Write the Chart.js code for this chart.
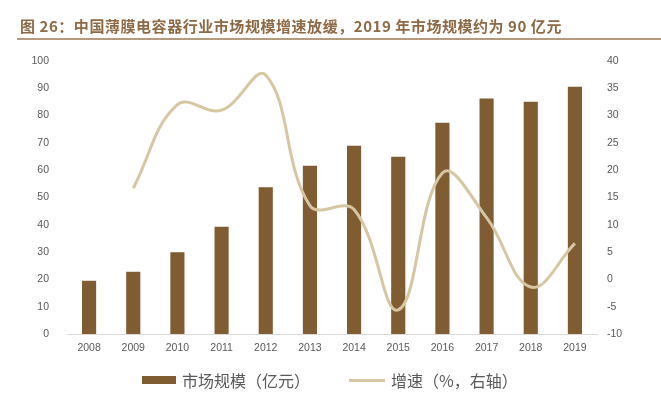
<!DOCTYPE html>
<html>
<head>
<meta charset="utf-8">
<script src="https://cdn.jsdelivr.net/npm/chart.js"></script>
<style>
  body { margin: 0; background: #fff; width: 661px; height: 395px; overflow: hidden; position: relative; font-family: "Noto Sans CJK SC", sans-serif; }
  #title { position: absolute; left: 20px; top: 16px; font-size: 15px; line-height: 20px; font-weight: bold; letter-spacing: 0.55px; color: #8e6945; white-space: nowrap; }
  #rule { position: absolute; left: 17px; right: 0; top: 38px; height: 2px; background: #b59a7e; }
  #wrap { position: absolute; left: 0; top: 0; width: 661px; height: 395px; }
  .leg { position: absolute; top: 369px; height: 22px; display: flex; align-items: center; font-size: 16px; color: #595959; white-space: nowrap; }
  .leg i { display: inline-block; margin-right: 6px; }
</style>
</head>
<body>
<div id="wrap"><canvas id="myChart" width="661" height="395"></canvas></div>
<div id="title">图 26：中国薄膜电容器行业市场规模增速放缓，2019 年市场规模约为 90 亿元</div>
<div id="rule"></div>
<div class="leg" style="left:142px"><i style="width:34px;height:8px;background:#7f5c31"></i>市场规模（亿元）</div>
<div class="leg" style="left:349px"><i style="width:36px;height:3px;background:#d6c6a2"></i>增速（%，右轴）</div>
<script>
const years = ['2008', '2009', '2010', '2011', '2012', '2013', '2014', '2015', '2016', '2017', '2018', '2019'];
const marketSize = [19.5, 22.8, 29.9, 39.3, 53.8, 61.6, 69.0, 64.9, 77.4, 86.3, 85.1, 90.6];
const growthRate = [null, 16.7, 32.0, 31.0, 37.4, 13.5, 12.8, -5.6, 19.5, 11.3, -1.4, 6.6];

Chart.defaults.font.family = '"Liberation Sans", "Noto Sans CJK SC", sans-serif';
Chart.defaults.color = '#595959';

const ctx = document.getElementById('myChart').getContext('2d');

new Chart(ctx, {
  data: {
    labels: years,
    datasets: [
      {
        type: 'line',
        label: '增速（%，右轴）',
        data: growthRate,
        yAxisID: 'y1',
        borderColor: '#d6c6a2',
        borderWidth: 3,
        pointRadius: 0,
        tension: 0.4,
        order: 0,
      },
      {
        type: 'bar',
        label: '市场规模（亿元）',
        data: marketSize,
        yAxisID: 'y',
        backgroundColor: '#7f5c31',
        barPercentage: 0.32,
        categoryPercentage: 1,
        order: 1,
      },
    ],
  },
  options: {
    responsive: false,
    animation: false,
    layout: { padding: { top: 61, bottom: 37, left: 0, right: 0 } },
    plugins: {
      legend: { display: false },
      tooltip: { enabled: false },
    },
    scales: {
      x: {
        grid: { display: false, drawTicks: false },
        border: { display: true, color: '#d9d9d9', width: 1 },
        ticks: { font: { size: 10.5 }, padding: 8, maxRotation: 0 },
        afterFit: (s) => { s.height = 24; },
      },
      y: {
        position: 'left',
        min: 0,
        max: 100,
        grid: { display: false, drawTicks: false },
        border: { display: false },
        ticks: { stepSize: 10, font: { size: 10.5 }, padding: 18 },
        afterFit: (s) => { s.width = 67; },
      },
      y1: {
        position: 'right',
        min: -10,
        max: 40,
        grid: { display: false, drawTicks: false },
        border: { display: false },
        ticks: { stepSize: 5, font: { size: 10.5 }, padding: 10 },
        afterFit: (s) => { s.width = 64; },
      },
    },
  },
});
</script>
</body>
</html>
